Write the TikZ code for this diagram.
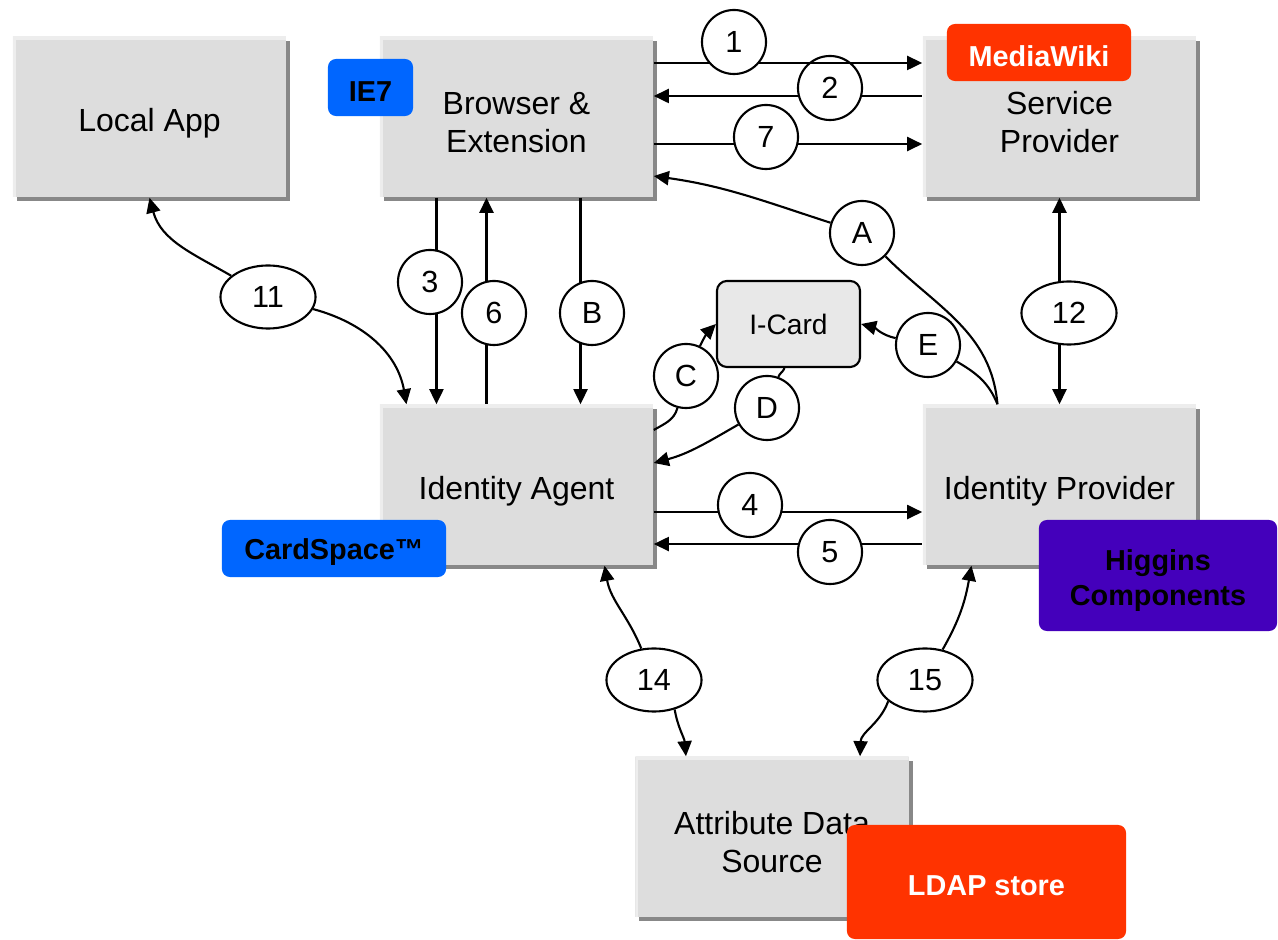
\documentclass[tikz,border=0pt]{standalone}
\usepackage{fontspec}
\setmainfont{Liberation Sans}
\usetikzlibrary{arrows.meta, shapes.geometric, shadows}

\definecolor{boxgray}{HTML}{DDDDDD}
\definecolor{boxedge}{HTML}{EDEDED}
\definecolor{shadowgray}{HTML}{888888}
\definecolor{cardgray}{HTML}{E8E8E8}
\definecolor{tagblue}{HTML}{0066FF}
\definecolor{tagred}{HTML}{FF3300}
\definecolor{tagpurple}{HTML}{4400BB}

\tikzset{
    box/.style={fill=boxgray, minimum width=2.73cm, minimum height=1.6cm, align=center, inner sep=0pt,
        font=\fontsize{9.1}{10.8}\selectfont, execute at begin node={\rule{0pt}{10.2pt}},
        path picture={\draw[boxedge, line width=0.06cm] (path picture bounding box.south west)
            |- (path picture bounding box.north east);},
        drop shadow={shadow xshift=0.04cm, shadow yshift=-0.04cm, fill=shadowgray, opacity=1}},
    twobox/.style={box, execute at begin node={\rule{0pt}{20.2pt}}},
    tag/.style={rounded corners=0.08cm, align=center, inner sep=0pt,
        font=\fontsize{8.2}{10.2}\selectfont\bfseries, execute at begin node={\rule{0pt}{8pt}}},
    twotag/.style={tag, execute at begin node={\rule{0pt}{19pt}}},
    num/.style={circle, draw, fill=white, line width=0.6pt, minimum size=0.64cm, inner sep=0pt,
        font=\fontsize{8.7}{10}\selectfont},
    numoval/.style={ellipse, draw, fill=white, line width=0.6pt, minimum width=0.95cm,
        minimum height=0.63cm, inner sep=0pt, font=\fontsize{8.7}{10}\selectfont},
    flow/.style={line width=0.6pt}
}

\begin{document}
\begin{tikzpicture}[x=0.01cm, y=-0.01cm, >={Triangle[length=4.3pt, width=4pt]}]
    \useasboundingbox (0,0) rectangle (1278,940);

    % main components
    \node [box] (local) at (149.5,117) {Local App};
    \node [twobox] (browser) at (516.5,117) {Browser \&\\Extension};
    \node [twobox] (sp) at (1059.5,117) {Service\\Provider};
    \node [box] (ia) at (516.5,485) {Identity Agent};
    \node [box] (ip) at (1059.5,485) {Identity Provider};
    \node [twobox] (ads) at (772,837) {Attribute Data\\Source};
    \node [draw, fill=cardgray, line width=0.6pt, rounded corners=0.1cm, minimum width=1.43cm,
        minimum height=0.86cm, font=\fontsize{8}{10}\selectfont] (icard) at (788.5,324) {I-Card};

    % product tags
    \node [tag, fill=tagblue, minimum width=0.85cm, minimum height=0.57cm] (ie) at (370.5,87.5) {IE7};
    \node [tag, fill=tagred, text=white, minimum width=1.84cm, minimum height=0.57cm] (wiki) at (1039,52.5) {MediaWiki};
    \node [tag, fill=tagblue, minimum width=2.24cm, minimum height=0.57cm] (cardspace) at (334,548.5) {CardSpace™};
    \node [twotag, fill=tagpurple, minimum width=2.38cm, minimum height=1.11cm] (higgins) at (1158,575.5) {Higgins\\Components};
    \node [tag, fill=tagred, text=white, minimum width=2.79cm, minimum height=1.14cm] (ldap) at (986.5,882) {LDAP store};

    % browser <-> service provider
    \draw [flow, <-] ([yshift=0.21cm]browser.east) -- ([yshift=0.21cm]sp.west);
    \node [num] (l2) at (830,88) {2};
    \draw [flow, ->] ([yshift=0.54cm]browser.east) -- ([yshift=0.54cm]sp.west);
    \node [num] (l1) at (734,42) {1};
    \draw [flow, ->] ([yshift=-0.27cm]browser.east) -- ([yshift=-0.27cm]sp.west);
    \node [num] (l7) at (766,137) {7};

    % browser <-> identity agent
    \draw [flow, ->] ([xshift=-0.8cm]browser.south) -- ([xshift=-0.8cm]ia.north);
    \draw [flow, <-] ([xshift=-0.3cm]browser.south) -- ([xshift=-0.3cm]ia.north);
    \draw [flow, ->] ([xshift=0.64cm]browser.south) -- ([xshift=0.64cm]ia.north);
    \node [num] (l3) at (430,282) {3};
    \node [num] (l6) at (494,313) {6};
    \node [num] (lB) at (592,313) {B};

    % service provider <-> identity provider
    \draw [flow, <->] (sp.south) -- (ip.north);
    \node [numoval] (l12) at (1069,313) {12};

    % identity agent <-> identity provider
    \draw [flow, ->] ([yshift=-0.27cm]ia.east) -- ([yshift=-0.27cm]ip.west);
    \draw [flow, <-] ([yshift=-0.59cm]ia.east) -- ([yshift=-0.59cm]ip.west);
    \node [num] (l4) at (750,505) {4};
    \node [num] (l5) at (830,552) {5};

    \node [num] (lA) at (862,233) {A};
    \node [num] (lC) at (686,376) {C};
    \node [num] (lD) at (767,408) {D};
    \node [num] (lE) at (928,345) {E};
    \node [numoval] (l11) at (268,297) {11};
    \node [numoval] (l14) at (654,680) {14};
    \node [numoval] (l15) at (925,680) {15};

    % curved flows
    \draw [flow] ([xshift=-0.62cm]ip.north) to[out=95, in=-45] (lA);
    \draw [flow, ->] (lA) to[out=162, in=-8] ([yshift=-0.59cm]browser.east);
    \draw [flow] ([xshift=-0.62cm]ip.north) to[out=112, in=-30] (lE);
    \draw [flow, ->] (lE) to[out=168, in=-15] (icard.east);
    \draw [flow] ([yshift=0.55cm]ia.east) to[out=30, in=-105] (lC);
    \draw [flow, ->] (lC) to[out=65, in=-135] (icard.west);
    \draw [flow] ([xshift=-0.04cm]icard.south) to[out=-110, in=70] (lD);
    \draw [flow, ->] (lD) to[out=-150, in=15] ([yshift=0.22cm]ia.east);
    \draw [flow, ->] (l11) to[out=150, in=-75] (local.south);
    \draw [flow, ->] (l11) to[out=-15, in=100] ([xshift=-1.1cm]ia.north);
    \draw [flow, ->] (l14) to[out=112, in=-80] ([xshift=0.88cm]ia.south);
    \draw [flow, ->] (l14.-55) to[out=-80, in=95] ([xshift=-0.86cm]ads.north);
    \draw [flow, ->] (l15) to[out=60, in=-100] ([xshift=-0.88cm]ip.south);
    \draw [flow, ->] (l15.-150) to[out=-110, in=88] ([xshift=0.88cm]ads.north);
\end{tikzpicture}
\end{document}
